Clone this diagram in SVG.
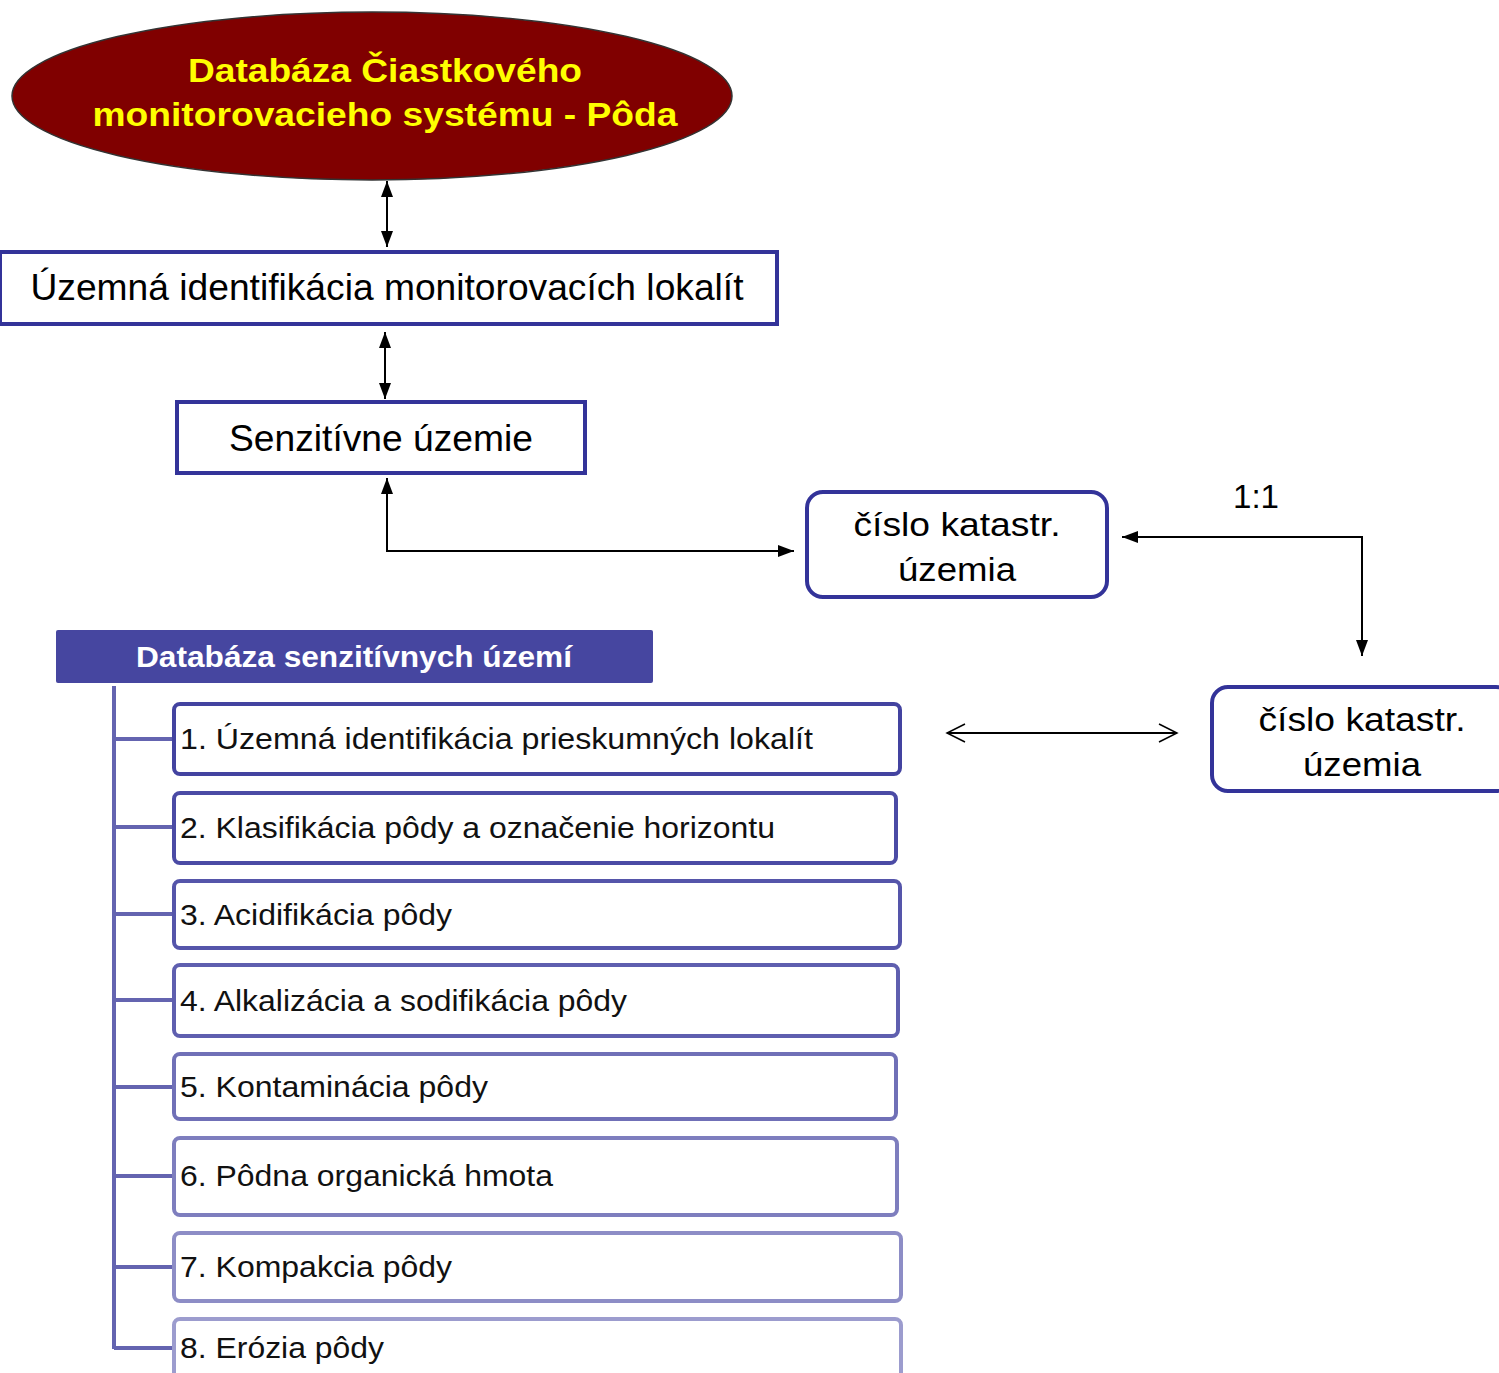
<svg xmlns="http://www.w3.org/2000/svg" width="1499" height="1373" viewBox="0 0 1499 1373">
<style>
.t{font-family:"Liberation Sans",Arial,sans-serif;fill:#000}
.c{text-anchor:middle}
.box{fill:#fff;stroke:#333399;stroke-width:4}
.item{fill:#fff;stroke-width:4}
.it{font-family:"Liberation Sans",Arial,sans-serif;font-size:30px;fill:#111}
.ln{stroke:#000;stroke-width:2;fill:none}
.tree{stroke:#6464B0;stroke-width:4;fill:none}
</style>
<defs>
<marker id="af" viewBox="0 0 16 12" refX="16" refY="6" markerWidth="16" markerHeight="12" markerUnits="userSpaceOnUse" orient="auto-start-reverse">
<path d="M0,0 L16,6 L0,12 z" fill="#000"/>
</marker>
<marker id="ao" viewBox="0 0 20 20" refX="19" refY="10" markerWidth="32" markerHeight="20" markerUnits="userSpaceOnUse" orient="auto-start-reverse">
<path d="M1,1 L19,10 L1,19" fill="none" stroke="#000" stroke-width="1.5"/>
</marker>
</defs>
<rect width="1499" height="1373" fill="#fff"/>

<g id="connectors">
<line class="ln" x1="387" y1="181" x2="387" y2="247" marker-start="url(#af)" marker-end="url(#af)"/>
<line class="ln" x1="385" y1="332" x2="385" y2="399" marker-start="url(#af)" marker-end="url(#af)"/>
<polyline class="ln" points="387,478 387,551 794,551" marker-start="url(#af)" marker-end="url(#af)"/>
<polyline class="ln" points="1122,537 1362,537 1362,656" marker-start="url(#af)" marker-end="url(#af)"/>
<line class="ln" x1="947" y1="733" x2="1177" y2="733" marker-start="url(#ao)" marker-end="url(#ao)"/>
<g id="tree">
<line class="tree" x1="114" y1="686" x2="114" y2="1349"/>
<line class="tree" x1="114" y1="739" x2="174" y2="739"/>
<line class="tree" x1="114" y1="827" x2="174" y2="827"/>
<line class="tree" x1="114" y1="914" x2="174" y2="914"/>
<line class="tree" x1="114" y1="1000" x2="174" y2="1000"/>
<line class="tree" x1="114" y1="1087" x2="174" y2="1087"/>
<line class="tree" x1="114" y1="1176" x2="174" y2="1176"/>
<line class="tree" x1="114" y1="1267" x2="174" y2="1267"/>
<line class="tree" x1="114" y1="1348" x2="174" y2="1348"/>
</g>
</g>

<g id="root">
<ellipse cx="372" cy="96" rx="360" ry="84" fill="#800000" stroke="#333" stroke-width="1.5"/>
<text class="c" x="385" y="82" font-family="Liberation Sans,Arial,sans-serif" font-weight="bold" font-size="34" fill="#FFFF00" textLength="394" lengthAdjust="spacingAndGlyphs">Databáza Čiastkového</text>
<text class="c" x="385" y="126" font-family="Liberation Sans,Arial,sans-serif" font-weight="bold" font-size="34" fill="#FFFF00" textLength="585" lengthAdjust="spacingAndGlyphs">monitorovacieho systému - Pôda</text>
</g>

<g id="uzemna">
<rect class="box" x="0" y="252" width="777" height="72"/>
<text class="t c" x="387" y="300" font-size="36" textLength="713" lengthAdjust="spacingAndGlyphs">Územná identifikácia monitorovacích lokalít</text>
</g>

<g id="senzitivne">
<rect class="box" x="177" y="402" width="408" height="71"/>
<text class="t c" x="381" y="451" font-size="36" textLength="304" lengthAdjust="spacingAndGlyphs">Senzitívne územie</text>
</g>

<g id="cislo1">
<rect class="box" x="807" y="492" width="300" height="105" rx="16"/>
<text class="t c" x="957" y="536" font-size="34" textLength="207" lengthAdjust="spacingAndGlyphs">číslo katastr.</text>
<text class="t c" x="957" y="581" font-size="34" textLength="118" lengthAdjust="spacingAndGlyphs">územia</text>
</g>

<text id="ratio" class="t c" x="1256" y="508" font-size="34" textLength="46" lengthAdjust="spacingAndGlyphs">1:1</text>

<g id="cislo2">
<rect class="box" x="1212" y="687" width="300" height="104" rx="16"/>
<text class="t c" x="1362" y="731" font-size="34" textLength="207" lengthAdjust="spacingAndGlyphs">číslo katastr.</text>
<text class="t c" x="1362" y="776" font-size="34" textLength="118" lengthAdjust="spacingAndGlyphs">územia</text>
</g>

<g id="header">
<rect x="56" y="630" width="597" height="53" rx="2" fill="#4646A0"/>
<text x="354" y="667" text-anchor="middle" font-family="Liberation Sans,Arial,sans-serif" font-weight="bold" font-size="30" fill="#fff" textLength="436" lengthAdjust="spacingAndGlyphs">Databáza senzitívnych území</text>
</g>

<g id="item1">
<rect class="item" x="174" y="704" width="726" height="70" rx="6" stroke="#4343A0"/>
<text class="it" x="180" y="749" textLength="633" lengthAdjust="spacingAndGlyphs">1. Územná identifikácia prieskumných lokalít</text>
</g>
<g id="item2">
<rect class="item" x="174" y="793" width="722" height="70" rx="6" stroke="#4B4BA5"/>
<text class="it" x="180" y="838" textLength="595" lengthAdjust="spacingAndGlyphs">2. Klasifikácia pôdy a označenie horizontu</text>
</g>
<g id="item3">
<rect class="item" x="174" y="881" width="726" height="67" rx="6" stroke="#5555AA"/>
<text class="it" x="180" y="925" textLength="272" lengthAdjust="spacingAndGlyphs">3. Acidifikácia pôdy</text>
</g>
<g id="item4">
<rect class="item" x="174" y="965" width="724" height="71" rx="6" stroke="#5F5FAF"/>
<text class="it" x="180" y="1011" textLength="447" lengthAdjust="spacingAndGlyphs">4. Alkalizácia a sodifikácia pôdy</text>
</g>
<g id="item5">
<rect class="item" x="174" y="1054" width="722" height="65" rx="6" stroke="#7070B7"/>
<text class="it" x="180" y="1097" textLength="308" lengthAdjust="spacingAndGlyphs">5. Kontaminácia pôdy</text>
</g>
<g id="item6">
<rect class="item" x="174" y="1138" width="723" height="77" rx="6" stroke="#7E7EBE"/>
<text class="it" x="180" y="1186" textLength="373" lengthAdjust="spacingAndGlyphs">6. Pôdna organická hmota</text>
</g>
<g id="item7">
<rect class="item" x="174" y="1233" width="727" height="68" rx="6" stroke="#8D8DC6"/>
<text class="it" x="180" y="1277" textLength="272" lengthAdjust="spacingAndGlyphs">7. Kompakcia pôdy</text>
</g>
<g id="item8">
<rect class="item" x="174" y="1319" width="727" height="70" rx="6" stroke="#9C9CCE"/>
<text class="it" x="180" y="1358" textLength="204" lengthAdjust="spacingAndGlyphs">8. Erózia pôdy</text>
</g>
</svg>
